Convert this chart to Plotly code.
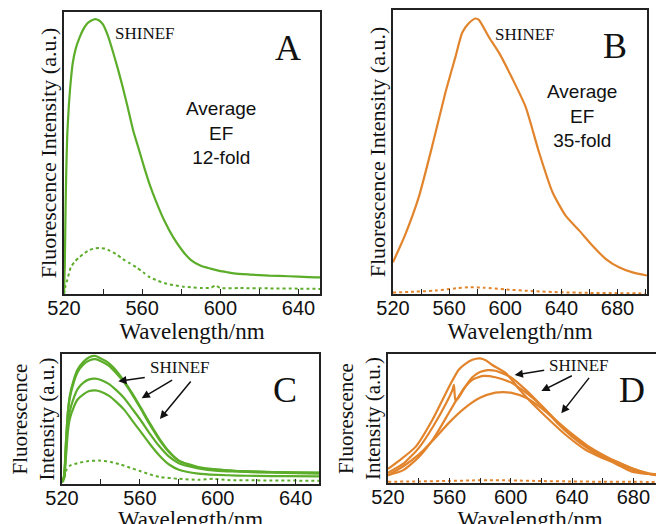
import plotly.graph_objects as go

GREEN = "#5cad2a"
ORANGE = "#e2842c"
SERIF = "Liberation Serif, Times New Roman, serif"
SANS = "Liberation Sans, Arial, sans-serif"

# ---------------- Panel A (green, 12-fold) ----------------
A_x = [520, 520.4, 520.8, 521.2, 521.7, 522.5, 523.4, 524.5, 526, 528, 530, 532, 534, 536, 538,
       540, 542.5, 545, 547.5, 550, 552.5, 555.4, 558, 561, 564, 567, 571, 576, 581, 585, 590,
       595, 599, 603, 607, 615, 625, 635, 645, 652]
A_y = [0.0, 0.1, 0.3, 0.45, 0.57, 0.67, 0.75, 0.82, 0.87, 0.91, 0.94, 0.96, 0.97, 0.975, 0.97,
       0.955, 0.915, 0.86, 0.8, 0.735, 0.665, 0.58, 0.52, 0.45, 0.385, 0.33, 0.265, 0.2, 0.15, 0.12, 0.1,
       0.09, 0.083, 0.078, 0.073, 0.069, 0.065, 0.063, 0.06, 0.059]
A_ref_x = [520, 520.8, 521.7, 523.5, 525.5, 527.8, 530.5, 533, 536, 538, 541, 543.3, 547, 550, 553.5,
           557, 560.5, 564, 568, 572.7, 577, 581, 586, 590, 595, 597.7, 600, 610, 624.5, 640, 652]
A_ref_y = [0.0, 0.03, 0.05, 0.095, 0.115, 0.13, 0.145, 0.156, 0.162, 0.163, 0.161, 0.154, 0.14, 0.124, 0.11,
           0.095, 0.077, 0.059, 0.047, 0.036, 0.03, 0.026, 0.023, 0.021, 0.022, 0.03, 0.021, 0.021, 0.02, 0.019, 0.018]

# ---------------- Panel B (orange, 35-fold) ----------------
B_x = [520, 528.8, 538.3, 547.9, 557.4, 564.5, 569.3, 574, 578.8, 581.2, 588.3, 595.5, 605, 614.5,
       624, 633.6, 643, 652.6, 662, 671.5, 681, 690.7, 701]
B_y = [0.112, 0.21, 0.34, 0.52, 0.71, 0.835, 0.92, 0.953, 0.97, 0.965, 0.905, 0.85, 0.759, 0.659,
       0.5, 0.359, 0.276, 0.224, 0.171, 0.124, 0.094, 0.076, 0.065]
B_ref_x = [520, 535, 550, 565, 575, 585, 600, 620, 640, 660, 680, 700]
B_ref_y = [0.005, 0.008, 0.012, 0.02, 0.024, 0.022, 0.016, 0.01, 0.006, 0.004, 0.003, 0.002]

# ---------------- Panel C (green, individual SHINEF spectra) ----------------
C_x = [520, 521, 522, 523, 524, 526, 528, 531, 534, 537, 540, 544, 548, 552, 556, 560, 565, 570,
       575, 580, 590, 600, 610, 620, 635, 652]
C1_y = [0.02, 0.05, 0.3, 0.55, 0.68, 0.8, 0.88, 0.94, 0.975, 0.985, 0.965, 0.93, 0.87, 0.79, 0.7, 0.6,
        0.47, 0.35, 0.25, 0.18, 0.125, 0.11, 0.1, 0.095, 0.09, 0.088]
C2_y = [0.02, 0.06, 0.32, 0.55, 0.66, 0.78, 0.86, 0.92, 0.95, 0.96, 0.945, 0.91, 0.85, 0.78, 0.69, 0.59,
        0.46, 0.34, 0.245, 0.18, 0.13, 0.11, 0.1, 0.095, 0.09, 0.085]
C3_y = [0.02, 0.05, 0.25, 0.45, 0.56, 0.66, 0.73, 0.78, 0.805, 0.81, 0.8, 0.77, 0.72, 0.66, 0.58, 0.5,
        0.39, 0.29, 0.21, 0.16, 0.12, 0.1, 0.095, 0.09, 0.085, 0.08]
C4_y = [0.02, 0.04, 0.2, 0.4, 0.5, 0.59, 0.65, 0.69, 0.715, 0.72, 0.71, 0.68, 0.63, 0.57, 0.49, 0.41,
        0.31, 0.22, 0.15, 0.11, 0.08, 0.07, 0.065, 0.062, 0.06, 0.058]
C_ref_x = [520, 521, 522, 524, 528, 533, 539, 545, 550, 555, 560, 565, 570, 580, 590, 598, 605, 620, 652]
C_ref_y = [0.01, 0.03, 0.1, 0.14, 0.16, 0.175, 0.18, 0.17, 0.15, 0.125, 0.1, 0.075, 0.055, 0.04, 0.032,
           0.04, 0.03, 0.028, 0.025]

# ---------------- Panel D (orange, individual SHINEF spectra) ----------------
D1_x = [520, 528, 538, 549, 560, 566, 570, 575, 580, 584, 588, 597, 605, 614, 623, 636, 649, 658,
        668, 679, 690, 700, 705]
D1_y = [0.11, 0.18, 0.28, 0.49, 0.75, 0.876, 0.92, 0.955, 0.966, 0.95, 0.915, 0.85, 0.734, 0.618,
        0.514, 0.372, 0.256, 0.204, 0.152, 0.088, 0.07, 0.062, 0.058]
D2_x = [520, 530, 540, 550, 558, 562, 563, 564, 566, 570, 575, 580, 585, 590, 600, 610, 620, 630,
        640, 650, 660, 670, 680, 690, 700, 705]
D2_y = [0.08, 0.15, 0.27, 0.45, 0.62, 0.72, 0.76, 0.64, 0.66, 0.74, 0.82, 0.86, 0.875, 0.87, 0.82,
        0.72, 0.6, 0.47, 0.36, 0.27, 0.2, 0.15, 0.1, 0.07, 0.06, 0.056]
D3_x = [520, 530, 540, 550, 560, 565, 570, 575, 582, 590, 600, 610, 620, 630, 640, 650, 660, 670,
        680, 690, 700, 705]
D3_y = [0.06, 0.1, 0.2, 0.35, 0.55, 0.65, 0.74, 0.8, 0.83, 0.82, 0.78, 0.7, 0.6, 0.48, 0.37, 0.28,
        0.21, 0.16, 0.11, 0.07, 0.055, 0.052]
D4_x = [520, 530, 540, 550, 560, 570, 580, 590, 595, 600, 610, 620, 630, 640, 650, 660, 670, 680,
        690, 700, 705]
D4_y = [0.06, 0.13, 0.22, 0.34, 0.47, 0.58, 0.66, 0.7, 0.705, 0.7, 0.66, 0.58, 0.48, 0.38, 0.29,
        0.22, 0.16, 0.11, 0.075, 0.06, 0.057]
D_ref_x = [520, 540, 560, 575, 585, 600, 620, 640, 660, 680, 705]
D_ref_y = [0.01, 0.012, 0.016, 0.02, 0.022, 0.02, 0.015, 0.012, 0.01, 0.009, 0.008]

fig = go.Figure()


def solid(x, y, color, xa, ya):
    fig.add_trace(go.Scatter(x=x, y=y, mode="lines", line=dict(color=color, width=2.2, shape="spline", smoothing=0.6),
                             xaxis=xa, yaxis=ya, showlegend=False, hoverinfo="skip"))


def dotted(x, y, color, xa, ya):
    fig.add_trace(go.Scatter(x=x, y=y, mode="lines", line=dict(color=color, width=2, dash="dot", shape="spline", smoothing=0.6),
                             xaxis=xa, yaxis=ya, showlegend=False, hoverinfo="skip"))


solid(A_x, A_y, GREEN, "x", "y")
dotted(A_ref_x, A_ref_y, GREEN, "x", "y")
solid(B_x, B_y, ORANGE, "x2", "y2")
dotted(B_ref_x, B_ref_y, ORANGE, "x2", "y2")
for cy in (C1_y, C2_y, C3_y, C4_y):
    solid(C_x, cy, GREEN, "x3", "y3")
dotted(C_ref_x, C_ref_y, GREEN, "x3", "y3")
for dx, dy in ((D1_x, D1_y), (D2_x, D2_y), (D3_x, D3_y), (D4_x, D4_y)):
    solid(dx, dy, ORANGE, "x4", "y4")
dotted(D_ref_x, D_ref_y, ORANGE, "x4", "y4")

W, H = 664, 524
OFF = 8  # page body margin


def fx(px):
    return (px - OFF) / W


def fy(py):
    return 1 - (py - OFF) / H


def xax(domain, rng, anchor):
    return dict(domain=domain, range=rng, anchor=anchor, showgrid=False, zeroline=False, automargin=False,
                showline=True, linecolor="#222", linewidth=1.5, mirror=True,
                ticks="inside", ticklen=5, tickwidth=1.3, tickcolor="#222", dtick=40, tick0=520,
                minor=dict(ticks="inside", ticklen=5, tickwidth=1.3, tickcolor="#222", dtick=20, tick0=520),
                tickfont=dict(family=SANS, size=20, color="#111"), ticklabelstandoff=-5,
                title=dict(text="Wavelength/nm", font=dict(family=SERIF, size=23, color="#111"), standoff=0))


def yax(domain, anchor, title, size):
    return dict(domain=domain, range=[0, 1], anchor=anchor, showgrid=False, zeroline=False, automargin=False,
                showline=True, linecolor="#222", linewidth=1.5, mirror=True,
                ticks="", showticklabels=False,
                title=dict(text=title, font=dict(family=SERIF, size=size, color="#111"), standoff=0))


fig.update_layout(
    width=W, height=H, margin=dict(l=0, r=0, t=0, b=0, autoexpand=False),
    paper_bgcolor="white", plot_bgcolor="white",
    xaxis=xax([fx(64), fx(320)], [520, 651], "y"),
    yaxis=yax([fy(294), fy(12)], "x", "Fluorescence Intensity (a.u.)", 22),
    xaxis2=xax([fx(393), fx(647)], [520, 701], "y2"),
    yaxis2=yax([fy(294), fy(10)], "x2", "Fluorescence Intensity (a.u.)", 22),
    xaxis3=xax([fx(62), fx(319)], [520, 652], "y3"),
    yaxis3=yax([fy(484), fy(354)], "x3", "Fluorescence<br>Intensity (a.u.)", 21),
    xaxis4=xax([fx(388), 1.0], [520, 705.2], "y4"),
    yaxis4=yax([fy(483), fy(354)], "x4", "Fluorescence<br>Intensity (a.u.)", 21),
)


def ptext(text, px, py, family, size):
    fig.add_annotation(text=text, x=fx(px), y=fy(py), xref="paper", yref="paper",
                       showarrow=False, xanchor="center", yanchor="middle",
                       font=dict(family=family, size=size, color="#111"))


# Panel letters
ptext("A", 288, 48, SERIF, 36)
ptext("B", 615, 46, SERIF, 36)
ptext("C", 285, 390, SERIF, 36)
ptext("D", 632, 390, SERIF, 36)
# SHINEF labels
ptext("SHINEF", 145, 33, SERIF, 17)
ptext("SHINEF", 525, 34, SERIF, 17)
ptext("SHINEF", 180, 367, SERIF, 17)
ptext("SHINEF", 579, 365, SERIF, 17)
# Enhancement factors
ptext("Average<br>EF<br>12-fold", 221, 133, SANS, 19)
ptext("Average<br>EF<br>35-fold", 582, 116, SANS, 19)

# Arrows (head in data coords, tail as pixel offset)
arrows = [("x3", "y3", 548.9, 0.79, 28, -4), ("x3", "y3", 560.9, 0.66, 32, -19), ("x3", "y3", 570.3, 0.5, 32, -39),
          ("x4", "y4", 602.6, 0.837, 31, -5), ("x4", "y4", 620.0, 0.713, 32, -16), ("x4", "y4", 633.0, 0.54, 29, -37)]
for xr, yr, hx, hy, ax, ay in arrows:
    fig.add_annotation(x=hx, y=hy, xref=xr, yref=yr, ax=ax, ay=ay, text="", showarrow=True,
                       arrowhead=2, arrowsize=1.1, arrowwidth=1.5, arrowcolor="#111")

fig.write_html("out.html")
